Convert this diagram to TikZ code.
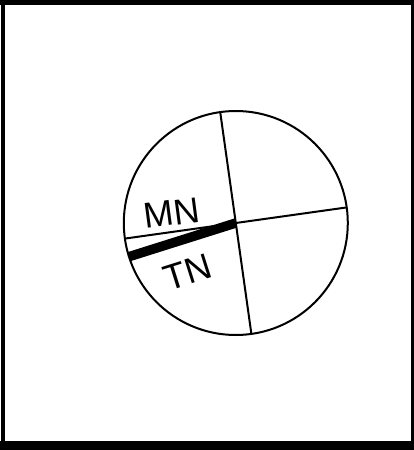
\documentclass[tikz,border=0pt]{standalone}
\usepackage{fontspec}
\setmainfont{Liberation Sans}
\begin{document}
\begin{tikzpicture}[x=1pt,y=-1pt,
  thinline/.style={line width=2pt,black},
  label/.style={font=\fontsize{36}{36}\selectfont,inner sep=0pt}]
\useasboundingbox (0,0) rectangle (414,450);
% frame
\fill[black] (0,0) rectangle (414,4.7);
\fill[black] (1.3,0) rectangle (4.7,450);
\fill[black] (411,0) rectangle (414,450);
\fill[black] (0,440.7) rectangle (414,450);
% compass
\coordinate (C) at (235.8,223);
\draw[thinline] (C) circle[radius=112];
\path (C) ++(-8:112) coordinate (Rt);
\path (C) ++(-8:-112) coordinate (Lf);
\path (C) ++(82:112) coordinate (Bt);
\path (C) ++(82:-112) coordinate (Tp);
\path (C) ++(162.5:112) coordinate (TL);
\draw[thinline] (Lf) -- (Rt);
\draw[thinline] (Tp) -- (Bt);
\draw[line width=9.5pt,black] (C) -- (TL);
\node[label,rotate=7.5] (mn) at (172,213) {MN};
\node[label,rotate=17.5] (tn) at (187.5,272.5) {TN};
\end{tikzpicture}
\end{document}
